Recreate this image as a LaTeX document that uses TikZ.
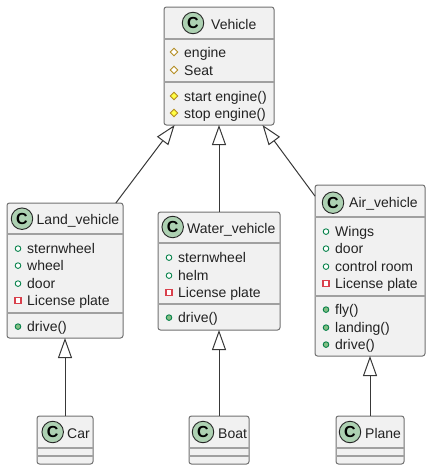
\documentclass[tikz,border=0pt]{standalone}
\usepackage{fontspec}
\setmainfont{Liberation Sans}
\usetikzlibrary{arrows.meta}
\definecolor{boxfill}{HTML}{F1F1F1}
\definecolor{boxedge}{HTML}{707070}
\definecolor{divcol}{HTML}{A0A0A0}
\definecolor{linecol}{HTML}{383838}
\definecolor{spot}{HTML}{ADD1B2}
\definecolor{txtcol}{HTML}{222222}
\definecolor{pubedge}{HTML}{038048}
\definecolor{pubfill}{HTML}{84BE84}
\definecolor{priedge}{HTML}{D9404C}
\definecolor{proedge}{HTML}{B38D22}
\definecolor{profill}{HTML}{FFFF44}
\tikzset{
  classbox/.style={draw=boxedge,line width=1pt,fill=boxfill,rounded corners=2.5pt,inner sep=0pt,outer sep=0pt},
  divider/.style={draw=divcol,line width=1.2pt},
  spotc/.style={circle,draw=black!85,line width=0.9pt,fill=spot,minimum size=21.5pt,inner sep=0pt,font=\fontsize{16}{16}\selectfont\bfseries,text=black},
  label/.style={anchor=base west,inner sep=0pt,text=txtcol,font=\fontsize{14}{16}\selectfont},
  inherit/.style={draw=linecol,line width=1pt,-{Triangle[open,length=20pt,width=14pt,fill=white]}},
}
% name, x1, y1, x2, y2
\newcommand{\umlbox}[5]{%
  \pgfmathsetmacro{\bw}{#4-#2}\pgfmathsetmacro{\bh}{#5-#3}%
  \pgfmathsetmacro{\cx}{(#2+#4)/2}\pgfmathsetmacro{\cy}{(#3+#5)/2}%
  \node[classbox,minimum width=\bw pt,minimum height=\bh pt] (#1) at (\cx,\cy) {};%
}
% name, spot x, spot y, text x, baseline, title
\newcommand{\umlhead}[6]{%
  \node[spotc] (#1spot) at (#2,#3) {C};%
  \node[label] (#1title) at (#4,#5) {#6};%
}
% box name, y
\newcommand{\umldiv}[2]{\draw[divider] (#1.west |- 0,#2) -- (#1.east |- 0,#2);}
% name, icon x, text x, baseline, text
\newcommand{\umlpub}[5]{%
  \draw[draw=pubedge,fill=white,line width=0.9pt] (#2,#4-4.4) circle (2.8pt);%
  \node[label] (#1) at (#3,#4) {#5};}
\newcommand{\umlpubm}[5]{%
  \draw[draw=pubedge,fill=pubfill,line width=0.9pt] (#2,#4-4.4) circle (2.8pt);%
  \node[label] (#1) at (#3,#4) {#5};}
\newcommand{\umlpri}[5]{%
  \draw[draw=priedge,fill=white,line width=1.1pt] (#2-3,#4-7.4) rectangle (#2+3,#4-1.4);%
  \node[label] (#1) at (#3,#4) {#5};}
\newcommand{\umlpro}[6]{%
  \draw[draw=proedge,fill=#6,line width=0.9pt] (#2-3.8,#4-5) -- (#2,#4-8.8) -- (#2+3.8,#4-5) -- (#2,#4-1.2) -- cycle;%
  \node[label] (#1) at (#3,#4) {#5};}
\begin{document}
\begin{tikzpicture}[x=1pt,y=-1pt]
\useasboundingbox (0,0) rectangle (432,471);
\umlbox{vehicle}{164}{7}{274}{125}
\umlbox{land}{7}{203}{123}{338}
\umlbox{water}{158}{212}{280}{330}
\umlbox{air}{315}{185}{425}{356}
\umlbox{car}{37}{416}{93}{464}
\umlbox{boat}{189}{416}{249}{464}
\umlbox{plane}{336}{416}{404}{464}

\draw[inherit] (land) -- (vehicle);
\draw[inherit] (water.north) -- (water.north |- vehicle.south);
\draw[inherit] (air) -- (vehicle);
\draw[inherit] (car.north) -- (car.north |- land.south);
\draw[inherit] (boat.north) -- (boat.north |- water.south);
\draw[inherit] (plane.north) -- (plane.north |- air.south);

\umlhead{vehicle}{193}{23}{211}{29}{Vehicle}
\umldiv{vehicle}{39}\umldiv{vehicle}{82}
\umlpro{v1}{174}{184}{57}{engine}{white}
\umlpro{v2}{174}{184}{75}{Seat}{white}
\umlpro{v3}{174}{184}{101}{start engine()}{profill}
\umlpro{v4}{174}{184}{118}{stop engine()}{profill}

\umlhead{land}{22}{218.7}{36.5}{224}{Land\_vehicle}
\umldiv{land}{234}\umldiv{land}{313}
\umlpub{l1}{18}{27}{253}{sternwheel}
\umlpub{l2}{18}{27}{270}{wheel}
\umlpub{l3}{18}{27}{288}{door}
\umlpri{l4}{18}{27}{305}{License plate}
\umlpubm{l5}{18}{27}{331}{drive()}

\umlhead{water}{172.7}{227}{187}{233}{Water\_vehicle}
\umldiv{water}{243}\umldiv{water}{304}
\umlpub{w1}{169}{178}{262}{sternwheel}
\umlpub{w2}{169}{178}{280}{helm}
\umlpri{w3}{169}{178}{297}{License plate}
\umlpubm{w4}{169}{178}{322}{drive()}

\umlhead{air}{333}{202.7}{349}{207}{Air\_vehicle}
\umldiv{air}{217}\umldiv{air}{296}
\umlpub{a1}{326}{335}{236}{Wings}
\umlpub{a2}{326}{335}{253}{door}
\umlpub{a3}{326}{335}{271}{control room}
\umlpri{a4}{326}{335}{288}{License plate}
\umlpubm{a5}{326}{335}{314}{fly()}
\umlpubm{a6}{326}{335}{332}{landing()}
\umlpubm{a7}{326}{335}{349}{drive()}

\umlhead{car}{52.7}{432}{67}{438}{Car}
\umldiv{car}{448}\umldiv{car}{456}
\umlhead{boat}{203}{432}{218}{438}{Boat}
\umldiv{boat}{448}\umldiv{boat}{456}
\umlhead{plane}{350}{432}{365}{438}{Plane}
\umldiv{plane}{448}\umldiv{plane}{456}
\end{tikzpicture}
\end{document}
